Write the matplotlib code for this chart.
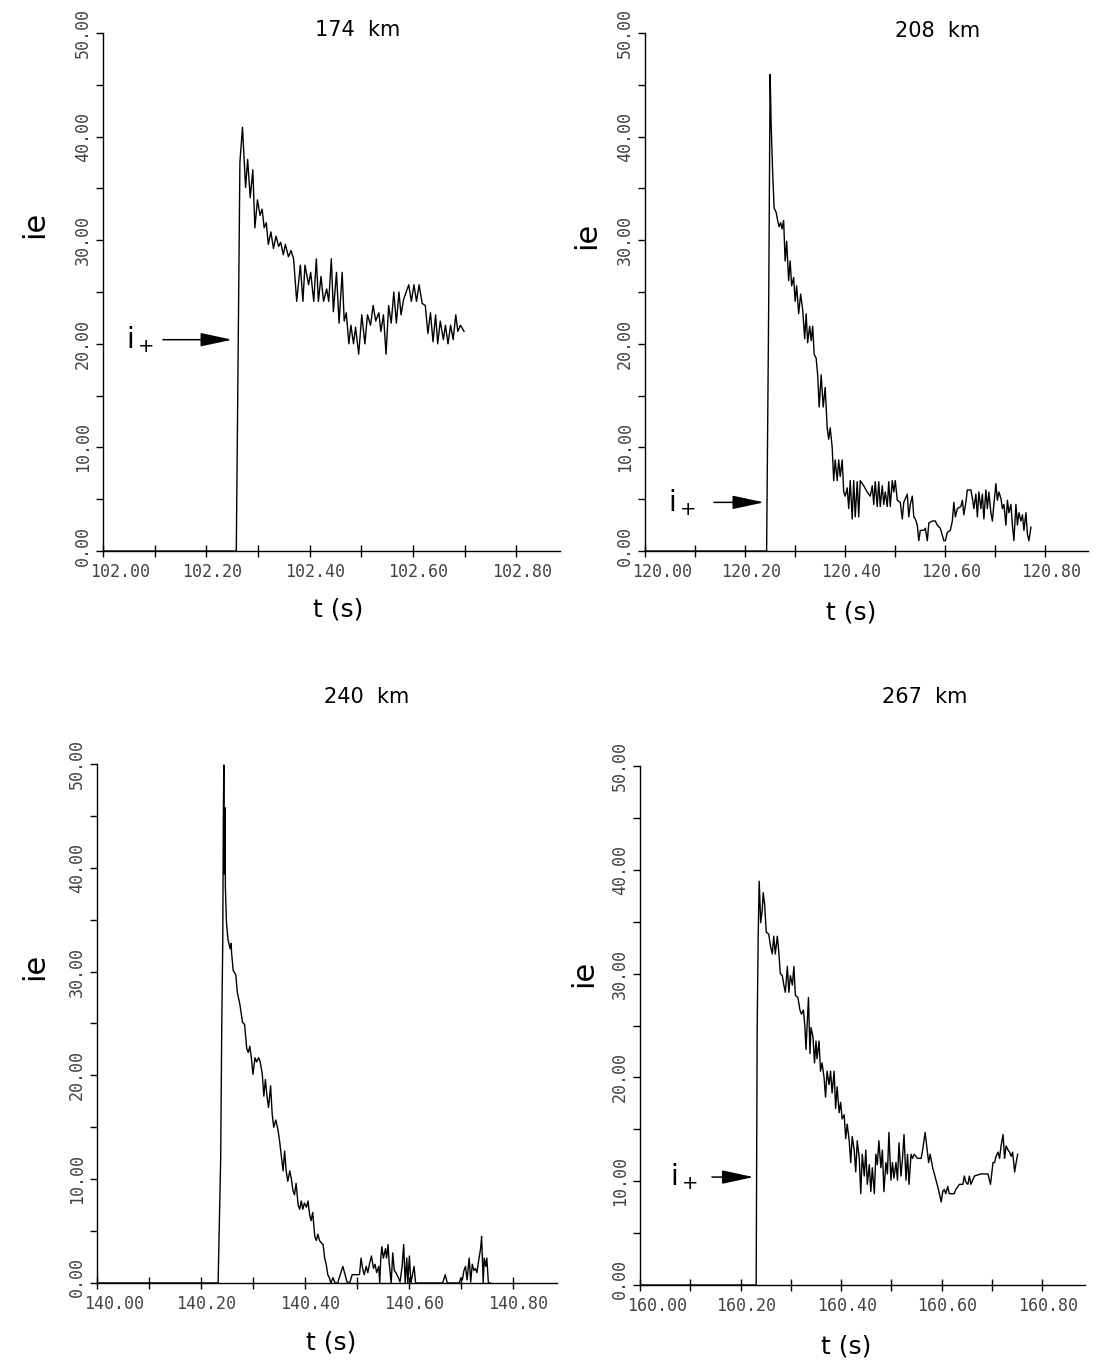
import matplotlib
matplotlib.use("Agg")
import matplotlib.pyplot as plt
from matplotlib.transforms import ScaledTranslation

# electron current i_e vs time

t_174 = [102.000, 102.258, 102.265, 102.270, 102.276, 102.280, 102.285, 102.290, 102.294, 102.299,
         102.304, 102.308, 102.312, 102.316, 102.320, 102.325, 102.330, 102.335, 102.340, 102.344,
         102.349, 102.353, 102.359, 102.364, 102.369, 102.375, 102.382, 102.387, 102.391, 102.398,
         102.402, 102.408, 102.413, 102.417, 102.422, 102.427, 102.433, 102.437, 102.442, 102.446,
         102.452, 102.457, 102.463, 102.467, 102.471, 102.476, 102.480, 102.485, 102.489, 102.495,
         102.501, 102.507, 102.512, 102.518, 102.523, 102.528, 102.534, 102.538, 102.543, 102.548,
         102.553, 102.558, 102.563, 102.568, 102.573, 102.577, 102.582, 102.587, 102.592, 102.597,
         102.602, 102.607, 102.612, 102.618, 102.624, 102.629, 102.634, 102.639, 102.644, 102.648,
         102.653, 102.659, 102.663, 102.668, 102.673, 102.678, 102.683, 102.687, 102.692, 102.699]
ie_174 = [0, 0, 37.5, 40.9, 35.1, 37.8, 34.1, 36.8, 31.2, 33.9,
          32.4, 33.0, 31.2, 31.7, 29.6, 30.8, 29.2, 30.4, 29.4, 29.8,
          28.6, 29.6, 28.4, 29.0, 28.2, 24.1, 27.6, 24.1, 27.6, 25.7,
          26.9, 24.1, 28.2, 24.1, 26.5, 24.1, 25.3, 24.1, 28.2, 23.1,
          26.9, 22.0, 26.9, 22.2, 23.0, 20.0, 21.8, 20.0, 21.6, 19.0,
          22.8, 20.0, 22.8, 21.8, 23.7, 22.2, 23.0, 21.2, 22.8, 19.0,
          23.7, 22.0, 25.0, 22.0, 25.0, 22.8, 24.3, 25.0, 25.7, 24.1,
          25.7, 24.1, 25.7, 23.9, 23.7, 21.0, 23.0, 20.2, 22.8, 20.0,
          22.2, 20.4, 21.8, 20.0, 21.8, 20.4, 22.8, 21.2, 21.8, 21.2]

t_208 = [120.000, 120.243, 120.247, 120.250, 120.252, 120.255, 120.258, 120.262, 120.265, 120.268,
         120.271, 120.274, 120.277, 120.280, 120.283, 120.287, 120.290, 120.293, 120.297, 120.300,
         120.303, 120.307, 120.311, 120.315, 120.319, 120.322, 120.325, 120.329, 120.332, 120.335,
         120.338, 120.342, 120.345, 120.348, 120.352, 120.356, 120.360, 120.364, 120.367, 120.370,
         120.374, 120.377, 120.380, 120.384, 120.387, 120.390, 120.394, 120.397, 120.400, 120.404,
         120.407, 120.410, 120.414, 120.417, 120.420, 120.424, 120.427, 120.430, 120.437, 120.444,
         120.450, 120.454, 120.457, 120.460, 120.464, 120.467, 120.470, 120.474, 120.477, 120.480,
         120.484, 120.487, 120.490, 120.494, 120.497, 120.500, 120.504, 120.510, 120.514, 120.517,
         120.524, 120.527, 120.530, 120.534, 120.537, 120.540, 120.544, 120.547, 120.550, 120.557,
         120.560, 120.564, 120.567, 120.574, 120.580, 120.584, 120.590, 120.597, 120.600, 120.604,
         120.610, 120.614, 120.617, 120.620, 120.624, 120.631, 120.634, 120.637, 120.641, 120.644,
         120.651, 120.654, 120.657, 120.661, 120.664, 120.667, 120.671, 120.674, 120.677, 120.681,
         120.684, 120.687, 120.691, 120.694, 120.697, 120.701, 120.704, 120.707, 120.711, 120.714,
         120.717, 120.721, 120.724, 120.727, 120.731, 120.734, 120.737, 120.741, 120.744, 120.747,
         120.751, 120.754, 120.757, 120.761, 120.764, 120.767, 120.771]
ie_208 = [0, 0, 22.9, 46.0, 41.3, 36.6, 33.1, 32.7, 31.9, 31.3,
          31.7, 31.1, 31.9, 28.0, 29.9, 26.1, 28.0, 25.6, 26.4, 24.1,
          25.6, 22.9, 24.8, 23.3, 20.5, 22.9, 20.1, 21.7, 20.3, 21.7,
          19.0, 18.6, 17.0, 13.9, 17.0, 13.9, 15.8, 11.9, 10.8, 11.9,
          10.0, 6.8, 8.8, 6.8, 8.8, 7.2, 8.8, 5.7, 5.3, 6.1,
          4.1, 6.8, 3.1, 6.8, 3.3, 6.7, 3.3, 6.8, 6.3, 5.7,
          5.3, 6.3, 4.5, 6.7, 4.3, 6.7, 4.3, 6.3, 4.5, 5.7,
          4.3, 6.7, 4.3, 6.8, 5.7, 6.8, 4.9, 4.7, 3.1, 4.7,
          5.5, 3.3, 4.5, 5.3, 3.3, 3.1, 2.5, 1.0, 2.0, 2.0,
          2.2, 1.0, 2.7, 2.9, 2.9, 2.5, 2.2, 1.0, 1.0, 1.8,
          2.0, 2.9, 4.7, 3.3, 4.1, 4.3, 4.9, 3.5, 4.7, 5.9,
          5.9, 5.1, 4.1, 5.5, 3.3, 5.7, 4.1, 5.5, 3.1, 5.9,
          4.1, 5.7, 3.7, 2.9, 4.5, 6.5, 4.9, 5.7, 5.1, 4.1,
          4.5, 2.5, 4.9, 3.7, 4.5, 2.5, 1.0, 4.5, 2.5, 3.7,
          2.9, 3.5, 2.0, 3.7, 1.6, 1.0, 2.3]

t_240 = [140.000, 140.233, 140.235, 140.238, 140.240, 140.242, 140.243, 140.244, 140.245, 140.246,
         140.247, 140.249, 140.252, 140.256, 140.258, 140.259, 140.262, 140.267, 140.270, 140.275,
         140.280, 140.284, 140.288, 140.291, 140.294, 140.297, 140.300, 140.304, 140.307, 140.311,
         140.314, 140.318, 140.321, 140.324, 140.327, 140.330, 140.334, 140.337, 140.340, 140.344,
         140.348, 140.351, 140.355, 140.358, 140.361, 140.364, 140.367, 140.371, 140.374, 140.377,
         140.380, 140.383, 140.387, 140.390, 140.393, 140.396, 140.399, 140.403, 140.406, 140.409,
         140.412, 140.415, 140.419, 140.422, 140.425, 140.428, 140.431, 140.435, 140.438, 140.441,
         140.444, 140.447, 140.450, 140.454, 140.458, 140.463, 140.473, 140.481, 140.486, 140.491,
         140.502, 140.505, 140.508, 140.511, 140.514, 140.518, 140.521, 140.525, 140.528, 140.532,
         140.535, 140.538, 140.542, 140.544, 140.546, 140.548, 140.551, 140.555, 140.557, 140.560,
         140.562, 140.566, 140.569, 140.572, 140.575, 140.580, 140.583, 140.587, 140.590, 140.593,
         140.596, 140.598, 140.601, 140.604, 140.607, 140.610, 140.613, 140.665, 140.670, 140.674,
         140.697, 140.700, 140.703, 140.706, 140.709, 140.712, 140.716, 140.719, 140.722, 140.725,
         140.728, 140.731, 140.735, 140.738, 140.740, 140.743, 140.745, 140.748, 140.750, 140.753,
         140.757]
ie_240 = [0, 0, 5.0, 12.1, 24.7, 33.1, 44.4, 49.9, 39.4, 45.8,
          38.1, 34.8, 33.1, 32.2, 32.7, 31.8, 30.1, 29.7, 28.0, 26.8,
          25.1, 24.9, 22.6, 22.2, 22.8, 21.7, 20.1, 21.7, 21.3, 21.7,
          21.3, 20.1, 18.0, 19.6, 18.0, 16.9, 19.0, 16.3, 15.0, 15.7,
          14.8, 13.8, 12.1, 10.8, 12.7, 10.8, 9.8, 10.8, 10.0, 8.9,
          8.5, 9.6, 7.5, 7.1, 7.9, 7.1, 7.7, 7.3, 7.9, 6.6,
          6.0, 6.8, 4.5, 4.1, 4.7, 4.1, 3.9, 3.7, 2.4, 1.8,
          0.8, 0.5, 0, 0.5, 0, 0, 1.6, 0.1, 0, 0.8,
          0.8, 0.8, 2.4, 1.4, 0.8, 1.6, 1.0, 2.0, 2.6, 1.4,
          1.8, 1.0, 1.6, 0, 2.4, 3.5, 2.4, 3.3, 2.4, 3.7,
          2.0, 0, 2.9, 1.2, 1.0, 0.5, 0.1, 1.6, 3.7, 0,
          2.4, 0, 2.6, 0, 0.8, 1.6, 0, 0, 0.8, 0,
          0, 0.5, 0.3, 1.2, 1.6, 0.3, 2.4, 0.1, 1.8, 1.2,
          1.4, 1.0, 2.4, 3.3, 4.5, 0, 2.4, 1.6, 2.4, 0,
          0]

t_267 = [160.000, 160.231, 160.233, 160.235, 160.237, 160.240, 160.243, 160.245, 160.248, 160.251,
         160.256, 160.259, 160.263, 160.266, 160.269, 160.273, 160.276, 160.279, 160.283, 160.286,
         160.289, 160.293, 160.296, 160.299, 160.303, 160.306, 160.309, 160.314, 160.318, 160.321,
         160.325, 160.328, 160.330, 160.333, 160.335, 160.338, 160.340, 160.344, 160.347, 160.350,
         160.352, 160.356, 160.359, 160.362, 160.366, 160.369, 160.372, 160.376, 160.379, 160.382,
         160.386, 160.389, 160.392, 160.396, 160.399, 160.402, 160.406, 160.409, 160.412, 160.416,
         160.419, 160.422, 160.426, 160.429, 160.432, 160.436, 160.439, 160.442, 160.446, 160.449,
         160.452, 160.456, 160.459, 160.462, 160.466, 160.469, 160.472, 160.475, 160.479, 160.482,
         160.485, 160.489, 160.492, 160.495, 160.499, 160.502, 160.505, 160.509, 160.512, 160.515,
         160.519, 160.522, 160.525, 160.529, 160.532, 160.535, 160.539, 160.542, 160.545, 160.552,
         160.559, 160.562, 160.567, 160.571, 160.574, 160.577, 160.582, 160.592, 160.599, 160.602,
         160.605, 160.608, 160.612, 160.615, 160.625, 160.628, 160.635, 160.642, 160.645, 160.648,
         160.652, 160.655, 160.658, 160.665, 160.678, 160.692, 160.697, 160.702, 160.705, 160.708,
         160.712, 160.715, 160.718, 160.722, 160.725, 160.728, 160.732, 160.735, 160.738, 160.741,
         160.745, 160.748, 160.751]
ie_267 = [0, 0, 24.8, 33.6, 38.9, 34.9, 36.1, 37.8, 36.6, 34.0,
          33.8, 32.8, 31.9, 33.6, 31.9, 33.6, 32.1, 30.0, 29.8, 28.9,
          28.2, 30.7, 28.2, 29.8, 28.9, 30.7, 27.9, 27.7, 26.5, 26.1,
          26.5, 24.8, 22.7, 25.6, 27.7, 22.3, 24.8, 23.9, 21.4, 23.5,
          21.8, 23.5, 20.6, 21.4, 20.0, 18.1, 20.6, 19.3, 20.6, 18.5,
          20.6, 17.0, 19.1, 16.6, 17.6, 16.0, 16.4, 14.1, 15.5, 13.9,
          11.8, 14.3, 13.0, 10.9, 13.9, 12.2, 8.8, 12.6, 10.5, 13.0,
          9.7, 11.6, 9.0, 11.3, 8.8, 12.6, 11.6, 13.9, 11.3, 13.0,
          9.0, 11.8, 10.7, 14.7, 10.1, 11.8, 10.3, 11.8, 10.1, 13.7,
          10.5, 12.2, 14.5, 10.1, 12.6, 9.7, 12.6, 12.2, 12.6, 12.2,
          12.2, 13.0, 14.7, 13.0, 11.8, 12.6, 11.3, 9.5, 8.0, 9.0,
          9.2, 8.8, 9.5, 8.8, 8.8, 9.2, 9.7, 9.7, 10.5, 9.9,
          9.7, 10.5, 9.7, 10.5, 10.7, 10.7, 9.7, 11.8, 11.8, 12.4,
          12.8, 12.2, 13.4, 14.5, 12.2, 13.4, 13.0, 12.8, 12.4, 12.8,
          10.9, 11.8, 12.6]

titles = ["174  km", "208  km", "240  km", "267  km"]
t_start = [102.0, 120.0, 140.0, 160.0]
x_offsets = [0.0, 0.2, 0.4, 0.6, 0.8]
y_ticks = [0, 10, 20, 30, 40, 50]
y_minor = [5, 15, 25, 35, 45]
# i+ level marked by the arrow: (level, arrow tail, arrow head, label x); None = no arrow
iplus = [(20.4, 102.116, 102.250, 102.072),
         (4.7, 120.138, 120.238, 120.074),
         None,
         (10.4, 160.143, 160.226, 160.088)]

series = [(t_174, ie_174), (t_208, ie_208), (t_240, ie_240), (t_267, ie_267)]

rects = [[0.0936, 0.5960, 0.4151, 0.3798],
         [0.5858, 0.5960, 0.4024, 0.3798],
         [0.0881, 0.0594, 0.4178, 0.3805],
         [0.5813, 0.0579, 0.4042, 0.3805]]
title_pos = [(0.325, 0.978), (0.852, 0.977), (0.333, 0.489), (0.840, 0.489)]
xlab_pos = [(0.307, 0.553), (0.773, 0.551), (0.301, 0.0154), (0.769, 0.0125)]
ylab_pos = [(-0.149, 31.5), (-0.131, 30.5), (-0.135, 30.5), (-0.126, 30.0)]

mono = "DejaVu Sans Mono"
grey = "#444444"

fig = plt.figure(figsize=(11.01, 13.64), dpi=100)

for k in range(4):
    ax = fig.add_axes(rects[k])
    t, v = series[k]
    ax.plot(t, v, color="black", lw=1.0)

    ax.set_xlim(t_start[k], t_start[k] + 0.885)
    ax.set_ylim(0, 50)
    ax.spines["top"].set_visible(False)
    ax.spines["right"].set_visible(False)
    for s in ("left", "bottom"):
        ax.spines[s].set_linewidth(1.0)

    xt = [t_start[k] + d for d in x_offsets]
    ax.set_xticks(xt)
    ax.set_xticks([t_start[k] + d + 0.1 for d in x_offsets[:-1]], minor=True)
    ax.set_xticklabels(["%.2f" % x for x in xt], fontfamily=mono, fontsize=12, color=grey)
    ax.tick_params(axis="x", which="both", direction="inout", length=9, width=1.0, pad=4)

    ax.set_yticks(y_ticks)
    ax.set_yticks(y_minor, minor=True)
    ax.set_yticklabels(["%.2f" % y for y in y_ticks], rotation=90, va="center",
                       fontfamily=mono, fontsize=12, color=grey)
    ax.tick_params(axis="y", which="both", direction="out", length=5, width=1.0, pad=3)

    # nudge labels like the plotter did: x labels a bit right, origin labels apart
    for i, lbl in enumerate(ax.get_xticklabels()):
        dx = 12 if i == 0 else 4
        lbl.set_transform(lbl.get_transform() + ScaledTranslation(dx / 72, 0, fig.dpi_scale_trans))
    lbl0 = ax.get_yticklabels()[0]
    lbl0.set_transform(lbl0.get_transform() + ScaledTranslation(0, 4 / 72, fig.dpi_scale_trans))

    fig.text(title_pos[k][0], title_pos[k][1], titles[k], fontsize=15,
             ha="center", va="center")
    fig.text(xlab_pos[k][0], xlab_pos[k][1], "t (s)", fontsize=18,
             ha="center", va="center")
    ax.text(ylab_pos[k][0], ylab_pos[k][1], "ie", transform=ax.get_yaxis_transform(),
            rotation=90, fontsize=22, ha="center", va="center")

    if iplus[k] is not None:
        y, x_tail, x_head, x_txt = iplus[k]
        ax.annotate("", xy=(x_head, y), xytext=(x_tail, y),
                    arrowprops=dict(arrowstyle="-|>,head_length=1.4,head_width=0.3",
                                    color="black", lw=1.1, shrinkA=0, shrinkB=0,
                                    mutation_scale=14))
        ax.text(x_txt, y, r"$\mathregular{i_+}$", fontsize=20, ha="center", va="center")

fig.savefig("out.png", dpi=100)
